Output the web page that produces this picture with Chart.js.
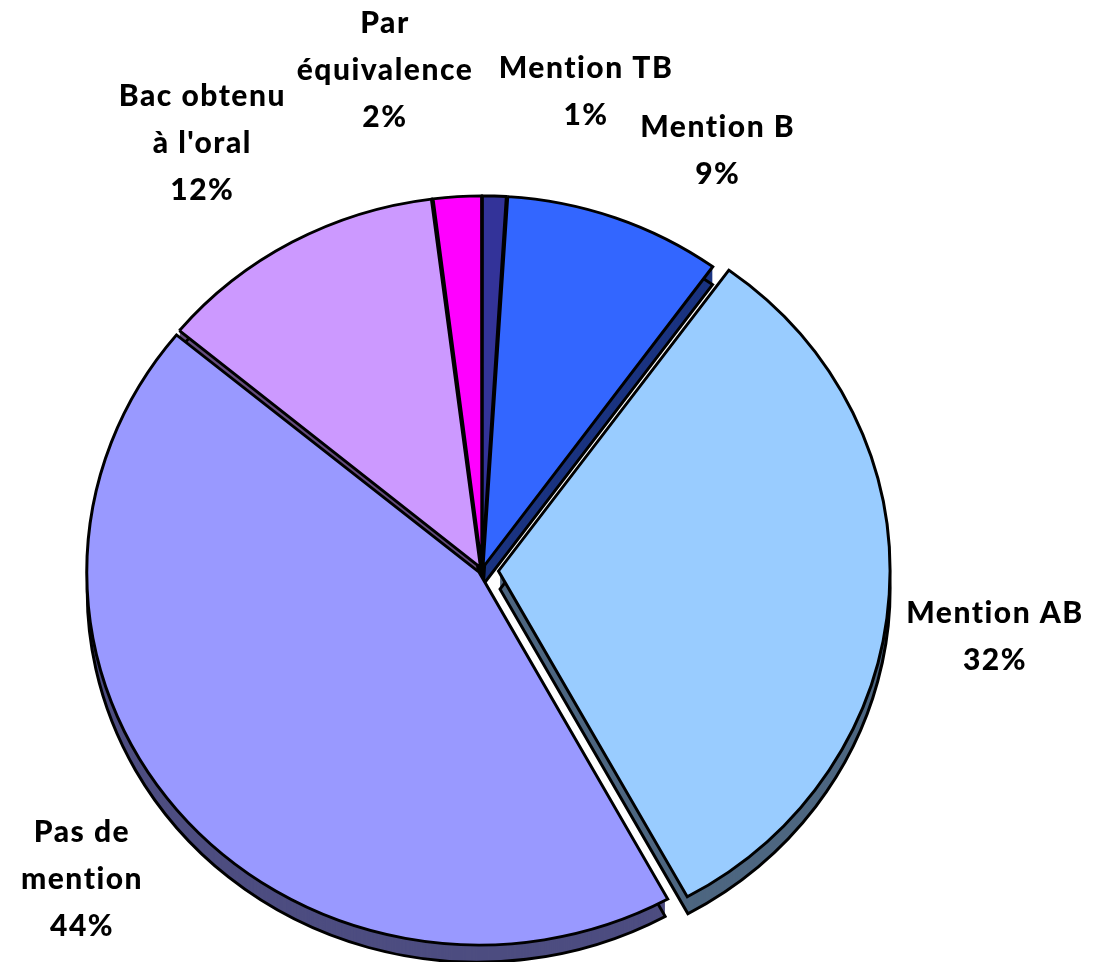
<!DOCTYPE html>
<html lang="fr">
<head>
<meta charset="utf-8">
<title>Répartition des mentions au bac</title>
<script src="https://cdn.jsdelivr.net/npm/chart.js@4.4.1/dist/chart.umd.min.js"></script>
<style>
  html, body { margin: 0; padding: 0; background: #fff; }
  #wrap { width: 1094px; height: 962px; }
</style>
</head>
<body>
<div id="wrap"><canvas id="mentionsChart" width="1094" height="962"></canvas></div>
<script>
// Data
var categories = ['Mention TB', 'Mention B', 'Mention AB', ['Pas de', 'mention'], ['Bac obtenu', "à l'oral"], ['Par', 'équivalence']];
var percents = [1, 9, 32, 44, 12, 2];

// Look
var sliceColors = ['#333399', '#3366FF', '#99CCFF', '#9999FF', '#CC99FF', '#FF00FF'];
var sideColors = ['#1A1A4D', '#1A3380', '#4D6680', '#4D4D80', '#664D80', '#800080'];
var sliceOffsets = [8, 11, 66, 15, 12, 8];
var labelNudges = [[88, 32], [63, 61], [4, 35], [-7, -16], [-34, 20], [-65, 9]];
var tilt = 0.95;      // squash of the pie, like Excel's 3D pie
var depth = 18;       // thickness of the side, px
var labelRadius = 510;
var lineHeight = 47;

(function () {
    "use strict";

    // where chart.js really moves an exploded slice (same maths as ArcElement.draw)
    function shift(arc) {
        var offset = (arc.options.offset || 0) / 4;
        var half = (arc.startAngle + arc.endAngle) / 2;
        var fix = 1 - Math.sin(Math.min(Math.PI, arc.circumference || 0));
        var d = offset + offset * fix;
        return { x: Math.cos(half) * d, y: Math.sin(half) * d };
    }

    function squash(ctx, cx, cy) {
        ctx.translate(cx, cy);
        ctx.scale(1, tilt);
        ctx.translate(-cx, -cy);
    }

    function slicePath(ctx, arc) {
        var s = shift(arc);
        ctx.beginPath();
        ctx.moveTo(arc.x + s.x, arc.y + s.y);
        ctx.arc(arc.x + s.x, arc.y + s.y, arc.outerRadius, arc.startAngle, arc.endAngle);
        ctx.closePath();
    }

    // Tilted pie with a visible side
    var tiltPlugin = {
        id: 'tilt',
        beforeDatasetsDraw: function (chart) {
            var ctx = chart.ctx;
            var arcs = chart.getDatasetMeta(0).data;
            var cx = arcs[0].x, cy = arcs[0].y;

            for (var k = depth; k >= 1; k--) {
                arcs.forEach(function (arc, i) {
                    ctx.save();
                    ctx.translate(0, k);
                    squash(ctx, cx, cy);
                    slicePath(ctx, arc);
                    ctx.fillStyle = sideColors[i];
                    ctx.fill();
                    ctx.restore();
                });
            }
            arcs.forEach(function (arc) {
                ctx.save();
                ctx.translate(0, depth);
                squash(ctx, cx, cy);
                slicePath(ctx, arc);
                ctx.lineWidth = 3;
                ctx.strokeStyle = '#000';
                ctx.stroke();
                ctx.restore();
            });

            // top faces get the same squash
            ctx.save();
            squash(ctx, cx, cy);
        },
        afterDatasetsDraw: function (chart) {
            chart.ctx.restore();
        }
    };

    // Category + percent labels round the pie
    var labelPlugin = {
        id: 'sliceLabels',
        afterDraw: function (chart) {
            var ctx = chart.ctx;
            var arcs = chart.getDatasetMeta(0).data;
            ctx.save();
            ctx.font = '900 30px Lato, "Open Sans", sans-serif';
            ctx.letterSpacing = '1.5px';
            ctx.fillStyle = '#000';
            ctx.textAlign = 'center';
            ctx.textBaseline = 'middle';
            arcs.forEach(function (arc, i) {
                var mid = (arc.startAngle + arc.endAngle) / 2;
                var x = arc.x + Math.cos(mid) * labelRadius + labelNudges[i][0];
                var y = arc.y + Math.sin(mid) * labelRadius + labelNudges[i][1];
                var lines = [].concat(chart.data.labels[i], percents[i] + '%');
                var top = y - (lines.length - 1) * lineHeight / 2;
                lines.forEach(function (t, j) {
                    ctx.fillText(t, x, top + j * lineHeight);
                });
            });
            ctx.restore();
        }
    };

    new Chart(document.getElementById('mentionsChart'), {
        type: 'pie',
        data: {
            labels: categories,
            datasets: [{
                data: percents,
                backgroundColor: sliceColors,
                borderColor: '#000',
                borderWidth: 3,
                borderJoinStyle: 'miter',
                offset: sliceOffsets,
                hoverOffset: 0,
                radius: 390
            }]
        },
        options: {
            responsive: false,
            animation: false,
            events: [],
            layout: { padding: { left: 0, right: 130, top: 178, bottom: 0 } },
            plugins: {
                legend: { display: false },
                tooltip: { enabled: false }
            }
        },
        plugins: [tiltPlugin, labelPlugin]
    });
})();
</script>
</body>
</html>
